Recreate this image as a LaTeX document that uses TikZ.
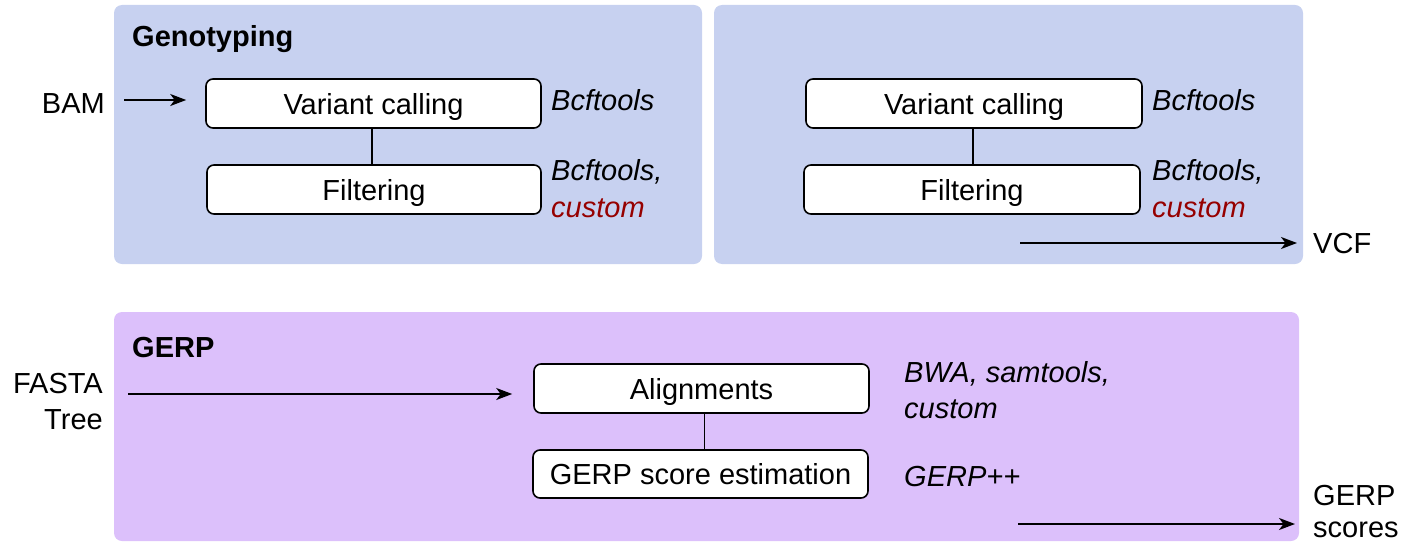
\documentclass[tikz,border=0pt]{standalone}
\usepackage{fontspec}
\setmainfont{Liberation Sans}
\usetikzlibrary{arrows.meta}

\definecolor{genoblue}{RGB}{199,209,240}
\definecolor{gerpviolet}{RGB}{220,192,251}
\definecolor{toolred}{RGB}{150,0,0}
\newcommand\basefont{\fontsize{29}{36}\selectfont}

\tikzset{
  panel/.style={fill=#1, draw=none, rounded corners=8pt},
  stepbox/.style={draw=black, fill=white, line width=1.6pt, rounded corners=7pt,
    minimum height=49pt, inner sep=0pt, text height=21pt, text depth=0pt, font=\basefont},
  tool/.style={anchor=base west, inner sep=0pt, font=\basefont\itshape},
  label/.style={anchor=base west, inner sep=0pt, font=\basefont},
  labelr/.style={anchor=base east, inner sep=0pt, font=\basefont},
  title/.style={anchor=base west, inner sep=0pt, font=\basefont\bfseries},
  arr/.style={line width=1.9pt, -{Stealth[length=16pt,width=12pt,inset=4.5pt]}},
  link/.style={line width=1.8pt},
}

\begin{document}
\begin{tikzpicture}[x=1pt,y=-1pt]
\useasboundingbox (0,0) rectangle (1404,543);

% background panels
\path[panel=genoblue] (114,5) rectangle (702,264);
\path[panel=genoblue] (714,5) rectangle (1303,264);
\path[panel=gerpviolet] (114,312) rectangle (1299,541);

% genotyping, first panel
\node[title] (geno) at (132,46) {Genotyping};
\node[labelr] (bam) at (105,113) {BAM};
\node[stepbox, minimum width=335pt] (vc1) at (373.5,103.5) {Variant calling};
\node[stepbox, minimum width=334pt] (flt1) at (374,189.5) {Filtering};
\node[tool] (t1a) at (551,110) {Bcftools};
\node[tool] (t1b) at (551,180) {Bcftools,};
\node[tool, text=toolred] (t1c) at (551,217) {custom};
\coordinate (bamtail) at (124,100);
\draw[arr, shorten >=19pt] (bamtail) -- (bamtail -| vc1.west);
\draw[link] ([xshift=-1.5pt]vc1.south) -- ([xshift=-1.5pt]vc1.south |- flt1.north);

% genotyping, second panel
\node[stepbox, minimum width=336pt] (vc2) at (974,103.5) {Variant calling};
\node[stepbox, minimum width=336pt] (flt2) at (972,189.5) {Filtering};
\node[tool] (t2a) at (1152,110) {Bcftools};
\node[tool] (t2b) at (1152,180) {Bcftools,};
\node[tool, text=toolred] (t2c) at (1152,217) {custom};
\draw[link] ([xshift=-1pt]vc2.south) -- ([xshift=-1pt]vc2.south |- flt2.north);
\node[label] (vcf) at (1313,253) {VCF};
\coordinate (vcftail) at (1020,243);
\draw[arr, shorten >=16pt] (vcftail) -- (vcftail -| vcf.west);

% GERP panel
\node[title] (gerp) at (132,357) {GERP};
\node[labelr] (fasta) at (103,393) {FASTA};
\node[labelr] (tree) at (103,429) {Tree};
\node[stepbox, minimum width=335pt] (align) at (701.5,388.5) {Alignments};
\node[stepbox, minimum width=335pt, minimum height=48pt] (gscore) at (700.5,474) {GERP score estimation};
\node[tool] (g1) at (904,382) {BWA, samtools,};
\node[tool] (g2) at (904,418) {custom};
\node[tool] (g3) at (904,486) {GERP++};
\coordinate (fastatail) at (128,394);
\draw[arr, shorten >=21pt] (fastatail) -- (fastatail -| align.west);
\draw[link] ([xshift=3pt]align.south) -- ([xshift=3pt]align.south |- gscore.north);
\node[label] (gout1) at (1313,505) {GERP};
\node[label] (gout2) at (1313,537) {scores};
\coordinate (gerptail) at (1018,524);
\draw[arr, shorten >=18pt] (gerptail) -- (gerptail -| gout2.west);
\end{tikzpicture}
\end{document}
